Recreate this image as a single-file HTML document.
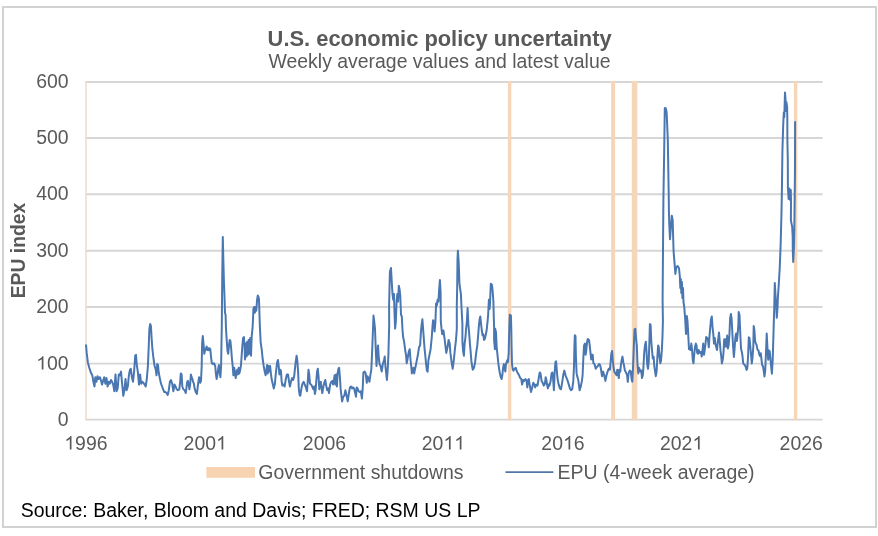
<!DOCTYPE html>
<html><head><meta charset="utf-8">
<style>
html,body{margin:0;padding:0;background:#fff;}
body{width:878px;height:536px;overflow:hidden;font-family:"Liberation Sans",sans-serif;}
svg{display:block;will-change:transform;}
text{font-family:"Liberation Sans",sans-serif;}
.ax{font-size:18.67px;fill:#595959;}
</style></head><body>
<svg width="878" height="536" viewBox="0 0 878 536">
<rect x="0" y="0" width="878" height="536" fill="#ffffff"/>
<rect x="3" y="7" width="873" height="520" fill="none" stroke="#d2d2d2" stroke-width="2"/>
<!-- gridlines -->
<g stroke="#d6d6d6" stroke-width="1.9">
<line x1="85.2" x2="822.6" y1="82.0" y2="82.0"/>
<line x1="85.2" x2="822.6" y1="138.0" y2="138.0"/>
<line x1="85.2" x2="822.6" y1="194.3" y2="194.3"/>
<line x1="85.2" x2="822.6" y1="250.8" y2="250.8"/>
<line x1="85.2" x2="822.6" y1="307.0" y2="307.0"/>
<line x1="85.2" x2="822.6" y1="363.6" y2="363.6"/>
<line x1="85.2" x2="822.6" y1="419.6" y2="419.6"/>
</g>
<!-- shutdown bars -->
<g fill="#f6d5b8">
<rect id="b0" x="85.2" y="81" width="1.6" height="339" fill="#f1dccb"/>
<rect id="b1" x="507.9" y="81" width="3.4" height="339.2"/>
<rect id="b2" x="611.1" y="81" width="4" height="339.2"/>
<rect id="b3" x="631.8" y="81" width="5.5" height="339.2"/>
<rect id="b4" x="793.9" y="81" width="3.4" height="339.2"/>
</g>
<!-- LINE -->
<path id="epu" d="M86.0,344.5 L86.7,352.9 L87.8,362.2 L89.3,367.8 L90.8,372.5 L92.3,375.3 L93.4,381.8 L94.5,386.5 L95.3,377.2 L96.4,381.8 L97.5,376.2 L98.7,379.0 L99.8,377.2 L100.9,380.0 L102.0,384.6 L103.1,380.9 L104.2,377.2 L105.4,383.7 L106.5,378.1 L107.6,386.5 L108.7,381.8 L109.8,383.7 L111.0,380.0 L112.1,381.8 L113.2,384.6 L114.3,391.2 L115.5,374.4 L116.6,391.2 L117.7,388.4 L118.8,374.4 L119.9,375.3 L121.0,371.6 L122.2,384.6 L123.3,395.8 L124.4,390.2 L125.5,379.0 L126.6,390.2 L127.8,386.5 L128.9,375.3 L130.0,369.7 L130.8,368.8 L131.9,377.2 L133.0,381.8 L134.1,371.6 L135.2,355.7 L136.0,354.8 L136.7,364.1 L137.8,371.6 L139.0,384.6 L140.1,374.4 L141.2,383.7 L142.3,381.8 L143.4,382.8 L144.6,384.6 L145.7,386.5 L146.8,379.0 L147.9,366.0 L148.7,347.3 L149.4,328.7 L150.2,324.0 L150.9,325.9 L151.6,338.0 L152.4,349.2 L153.5,358.5 L154.6,366.0 L155.8,369.7 L156.5,375.3 L157.2,364.1 L158.0,365.0 L158.7,372.5 L159.8,378.1 L161.0,383.7 L162.1,386.5 L163.2,389.3 L164.3,392.1 L165.4,392.1 L166.6,393.0 L167.7,394.9 L168.8,390.2 L169.9,381.8 L171.0,380.0 L172.2,383.7 L173.3,391.2 L174.4,385.6 L174.5,384.6 L175.6,386.5 L176.7,389.3 L177.8,390.2 L179.3,389.3 L180.1,382.8 L180.8,373.4 L181.6,374.4 L182.3,386.5 L183.4,389.3 L184.6,390.2 L185.7,393.0 L186.4,388.4 L187.2,381.8 L187.9,380.9 L188.7,384.6 L189.4,389.3 L190.2,383.7 L190.9,374.4 L191.6,377.2 L192.4,379.0 L193.1,381.8 L193.9,383.7 L194.6,388.4 L195.8,392.1 L196.9,394.0 L198.0,384.6 L199.1,377.2 L200.2,382.8 L201.0,380.9 L201.7,366.0 L202.1,343.6 L202.8,336.1 L203.6,344.5 L204.3,353.8 L205.1,350.1 L205.8,349.2 L206.6,346.4 L207.3,350.1 L208.1,348.2 L208.8,350.1 L209.6,348.2 L210.3,349.2 L211.0,356.6 L211.8,363.2 L212.9,364.1 L214.0,363.2 L215.2,366.0 L215.9,373.4 L216.6,379.0 L217.4,375.3 L218.1,369.7 L218.9,365.0 L219.6,371.6 L220.4,377.2 L221.1,366.0 L221.8,325.0 L222.2,280.0 L222.8,237.1 L223.4,262.0 L223.9,281.0 L224.6,299.6 L225.0,312.7 L225.6,315.0 L226.0,328.7 L226.7,339.9 L227.5,351.0 L228.2,353.8 L229.0,345.4 L229.7,339.9 L230.4,340.8 L231.2,349.2 L231.9,358.5 L232.7,366.0 L233.4,375.3 L234.2,367.8 L234.9,371.6 L235.7,378.1 L236.4,373.4 L237.2,369.7 L237.9,374.4 L238.7,367.8 L239.4,373.4 L240.2,369.7 L240.9,366.0 L241.6,356.6 L242.4,345.4 L243.1,338.0 L243.9,337.1 L244.6,347.3 L245.0,359.4 L245.8,343.6 L246.5,356.6 L247.2,341.7 L248.0,354.8 L248.7,339.9 L249.5,353.8 L250.2,338.0 L251.0,355.7 L251.7,336.1 L252.5,328.7 L252.9,322.0 L253.4,309.0 L254.1,307.0 L254.9,312.7 L255.6,307.0 L256.3,310.8 L257.1,299.6 L257.8,295.5 L258.5,297.0 L259.0,299.6 L259.3,309.0 L259.8,324.9 L260.7,342.6 L261.8,350.1 L262.6,358.5 L263.7,366.0 L264.9,372.5 L265.6,375.3 L266.3,371.6 L267.1,365.0 L267.8,373.4 L268.6,366.0 L269.3,371.6 L270.1,366.0 L270.8,372.5 L271.6,379.0 L272.7,383.7 L273.8,388.4 L274.9,383.7 L276.0,371.6 L277.2,362.2 L277.9,360.0 L278.7,366.0 L279.4,374.4 L280.1,369.7 L280.9,370.6 L281.6,380.9 L282.4,385.6 L283.5,384.6 L284.6,386.5 L285.8,379.0 L286.9,374.4 L288.0,374.4 L289.1,381.8 L289.9,386.5 L291.0,381.8 L292.1,378.1 L293.2,380.0 L294.3,375.3 L295.4,364.1 L296.6,355.7 L297.3,360.4 L298.1,371.6 L298.8,388.4 L299.6,394.9 L300.3,395.8 L301.4,388.4 L302.5,383.7 L303.7,381.8 L304.8,384.6 L305.9,387.4 L307.0,391.2 L307.8,380.9 L308.5,369.7 L309.2,374.4 L310.0,383.7 L311.1,384.6 L312.2,386.5 L313.4,389.3 L314.1,386.5 L314.9,394.0 L315.6,390.2 L316.3,380.9 L317.1,371.6 L317.8,368.8 L318.6,377.2 L319.3,389.3 L320.1,382.8 L320.8,381.8 L321.6,388.4 L322.3,393.0 L323.4,386.5 L324.6,381.8 L325.3,380.0 L326.0,384.6 L327.2,390.2 L328.3,388.4 L329.0,393.0 L330.1,384.6 L331.3,381.8 L332.4,380.9 L333.1,384.6 L333.9,380.0 L334.6,375.3 L335.4,384.6 L336.1,374.4 L336.9,386.5 L337.6,373.4 L338.4,368.8 L339.1,367.8 L339.9,377.2 L340.6,388.4 L341.3,394.9 L342.1,401.4 L343.2,396.8 L344.3,395.8 L345.4,390.2 L346.6,395.8 L347.7,401.4 L348.8,394.0 L349.9,387.4 L351.0,386.5 L352.2,388.4 L353.0,387.4 L354.1,388.4 L355.2,393.0 L356.0,396.8 L356.7,387.4 L357.5,388.4 L358.6,391.2 L359.7,392.1 L360.8,391.2 L361.9,398.6 L362.7,388.4 L363.4,372.5 L364.6,371.6 L365.7,373.4 L366.8,382.8 L367.5,376.2 L368.3,378.1 L369.4,381.8 L370.5,374.4 L371.3,369.7 L372.0,354.8 L372.8,334.2 L373.5,315.6 L374.2,321.2 L375.0,328.7 L375.8,351.0 L376.5,366.0 L377.2,354.8 L378.0,345.4 L378.7,356.6 L379.5,364.1 L380.6,366.0 L381.7,371.6 L382.8,364.1 L384.0,360.4 L384.7,356.6 L385.4,366.0 L386.2,373.4 L386.9,380.0 L387.7,369.7 L388.4,354.8 L389.2,324.9 L389.1,305.3 L389.9,271.7 L391.0,268.0 L391.7,281.0 L392.5,294.1 L393.2,299.7 L394.0,294.1 L394.3,307.2 L395.1,328.6 L395.8,322.1 L396.6,301.6 L397.3,294.1 L398.1,301.6 L398.8,285.7 L399.6,289.4 L400.3,296.0 L401.0,314.6 L401.8,316.5 L402.5,329.6 L403.0,336.1 L404.1,341.7 L405.2,350.1 L406.0,354.8 L406.7,363.2 L407.5,359.4 L408.2,354.8 L409.0,351.0 L409.7,349.2 L410.4,358.5 L411.2,366.0 L411.9,373.4 L412.7,369.7 L413.4,367.8 L414.2,373.4 L414.9,369.7 L415.7,366.0 L416.8,360.4 L417.9,354.8 L419.0,347.3 L420.1,345.4 L420.9,332.4 L421.6,324.9 L422.4,319.3 L423.1,328.7 L423.9,339.9 L424.6,349.2 L425.4,356.6 L426.1,364.1 L426.9,370.6 L427.6,371.6 L428.4,360.4 L429.5,354.8 L430.6,349.2 L431.7,338.0 L432.4,327.7 L433.1,320.2 L433.9,322.1 L434.6,331.4 L435.4,322.1 L436.1,303.4 L436.9,305.3 L437.6,299.7 L438.4,301.6 L439.1,290.4 L439.9,280.1 L440.6,292.2 L440.8,321.2 L441.5,328.7 L442.2,334.2 L443.4,330.5 L444.5,338.0 L445.6,347.3 L446.3,352.9 L447.5,347.3 L448.6,339.9 L449.7,343.6 L450.4,352.9 L451.6,362.2 L452.7,368.8 L453.8,360.4 L454.9,349.2 L456.0,339.9 L456.8,328.7 L456.8,305.3 L457.2,286.6 L457.5,258.7 L457.9,250.8 L458.7,262.4 L459.4,282.9 L460.1,288.5 L460.9,294.1 L461.6,309.0 L462.4,324.0 L462.4,341.7 L463.1,351.0 L463.9,355.7 L464.6,343.6 L465.4,338.0 L466.1,328.7 L466.9,321.2 L467.6,308.0 L468.4,324.9 L469.1,332.4 L469.9,343.6 L470.6,351.0 L471.3,360.4 L472.1,366.0 L472.8,369.7 L474.0,367.8 L475.1,362.2 L476.2,352.9 L477.3,345.4 L478.1,336.1 L478.8,326.8 L479.6,319.3 L480.3,316.5 L481.0,323.1 L481.8,330.5 L482.5,335.2 L483.3,334.2 L484.0,339.9 L484.8,338.9 L485.9,334.2 L486.6,330.5 L487.4,323.1 L488.1,315.6 L488.9,299.7 L489.6,309.0 L490.0,303.4 L490.8,283.8 L491.9,284.8 L492.6,290.4 L493.4,301.6 L493.7,314.6 L494.1,327.7 L494.1,339.9 L494.9,349.2 L495.2,328.7 L496.0,332.4 L496.7,347.3 L497.5,354.8 L498.2,362.2 L499.0,367.8 L499.7,372.5 L500.8,377.2 L501.6,379.0 L502.3,375.3 L503.1,367.8 L503.8,364.1 L504.6,367.8 L505.3,371.6 L506.0,364.1 L507.2,360.4 L507.9,362.2 L508.7,352.9 L509.0,338.0 L509.4,324.9 L509.8,314.7 L510.9,315.6 L511.3,328.7 L511.6,347.3 L512.0,364.1 L512.8,369.7 L513.5,370.6 L514.6,368.8 L515.8,367.8 L516.9,371.6 L518.0,373.4 L519.1,375.3 L520.2,378.1 L521.3,379.0 L522.1,384.6 L523.2,380.0 L524.3,380.9 L525.5,379.0 L526.6,380.9 L527.3,387.4 L528.1,380.0 L528.8,379.0 L529.5,383.7 L530.3,388.4 L531.0,392.1 L532.2,387.4 L533.3,382.8 L534.4,384.6 L535.2,387.4 L536.3,384.6 L537.5,385.6 L538.6,379.0 L539.7,372.5 L540.5,373.4 L541.6,380.9 L542.7,382.8 L543.8,385.6 L544.9,383.7 L545.7,377.2 L546.4,380.0 L547.2,385.6 L547.9,388.4 L548.7,384.6 L549.4,385.6 L550.5,381.8 L551.6,373.4 L552.4,372.5 L553.1,379.0 L553.9,390.2 L554.6,373.4 L555.4,362.2 L556.1,361.3 L556.9,371.6 L557.6,379.0 L558.7,384.6 L559.9,388.4 L561.0,389.3 L562.1,382.8 L563.2,375.3 L564.3,370.6 L565.5,375.3 L566.6,378.1 L567.7,380.9 L568.8,384.6 L569.9,388.4 L571.0,390.2 L572.2,389.3 L573.3,380.9 L574.0,366.0 L574.4,347.3 L574.8,335.2 L575.5,336.1 L575.9,356.6 L576.6,373.4 L577.4,377.2 L578.1,379.0 L578.9,384.6 L579.6,390.2 L580.8,386.5 L581.9,380.9 L582.6,375.3 L583.4,356.6 L584.1,345.4 L584.9,343.6 L585.6,354.8 L586.3,350.1 L587.1,341.7 L587.8,338.9 L589.0,339.9 L589.7,345.4 L590.5,352.9 L591.2,359.4 L591.9,354.8 L592.7,354.8 L593.4,363.2 L594.5,364.1 L595.7,368.8 L596.8,366.9 L597.9,366.0 L599.0,364.1 L600.1,365.0 L600.9,368.8 L602.0,376.2 L603.1,371.6 L604.2,375.3 L605.4,380.9 L606.5,375.3 L607.6,371.6 L608.7,368.8 L609.9,369.7 L610.6,362.2 L611.3,353.8 L612.1,351.0 L612.8,360.4 L613.6,367.8 L614.3,371.6 L615.5,373.4 L616.6,375.3 L617.3,369.7 L618.1,370.6 L618.8,378.1 L619.5,369.7 L620.3,371.6 L621.0,364.1 L621.8,359.4 L622.5,356.6 L623.3,362.2 L624.1,366.0 L624.9,370.6 L626.0,372.5 L627.1,375.3 L627.8,381.8 L628.6,373.4 L629.7,370.6 L630.8,371.6 L631.6,379.0 L632.3,381.8 L633.1,366.0 L633.8,347.3 L634.5,329.6 L635.3,328.7 L636.0,338.0 L636.8,345.4 L637.5,364.1 L638.3,373.4 L639.0,367.8 L639.8,369.7 L640.5,371.6 L641.3,370.6 L642.0,378.1 L642.8,375.3 L643.5,366.0 L644.2,352.9 L645.0,345.4 L645.8,341.7 L646.5,351.0 L647.2,364.1 L648.0,368.8 L648.7,362.2 L649.5,338.0 L649.9,324.0 L650.6,324.9 L651.3,341.7 L652.1,351.0 L652.8,358.5 L653.6,356.6 L654.3,366.0 L655.1,371.6 L655.8,376.2 L656.6,371.6 L657.3,358.5 L658.1,345.4 L658.8,347.3 L659.5,356.6 L660.3,363.2 L661.0,360.4 L661.8,351.0 L662.5,336.1 L662.9,321.2 L662.6,300.0 L663.0,250.0 L663.4,200.0 L664.2,150.0 L664.8,108.0 L665.8,108.5 L666.6,112.0 L667.2,125.0 L667.8,140.0 L668.3,170.0 L668.7,193.5 L668.9,210.0 L669.2,222.4 L670.0,239.2 L670.9,226.9 L671.8,215.7 L672.7,220.1 L673.1,235.8 L673.6,251.5 L674.5,262.7 L675.4,273.9 L676.3,267.2 L677.6,266.0 L679.0,268.3 L679.8,276.0 L680.3,288.0 L680.8,279.0 L681.3,293.0 L681.9,282.0 L682.4,298.0 L683.0,288.0 L683.5,302.0 L684.3,307.5 L685.3,321.0 L686.0,334.0 L686.8,316.0 L687.5,321.0 L688.3,336.1 L689.0,349.2 L689.8,347.3 L690.5,350.1 L691.3,343.6 L692.0,349.2 L692.8,360.4 L693.5,363.2 L694.2,354.8 L695.0,347.3 L695.8,343.6 L696.5,345.4 L697.2,352.9 L698.0,353.8 L698.7,350.1 L699.9,352.9 L701.0,352.0 L701.7,356.6 L702.5,351.0 L703.2,343.6 L704.0,354.8 L704.7,350.1 L705.5,343.6 L706.2,337.1 L707.3,338.0 L708.1,340.8 L708.8,347.3 L709.5,336.1 L710.3,326.8 L711.0,319.3 L711.8,316.5 L712.5,326.8 L713.3,334.2 L714.0,343.6 L714.8,338.0 L715.5,344.5 L716.3,347.3 L717.0,350.1 L717.5,344.8 L718.2,339.2 L719.0,332.6 L719.7,341.0 L720.5,350.4 L721.2,356.0 L721.9,363.4 L722.7,359.7 L723.4,354.1 L724.2,339.2 L724.9,346.6 L725.7,339.2 L726.4,346.6 L727.2,335.4 L727.9,348.5 L728.7,344.8 L729.4,335.4 L730.1,318.7 L730.9,314.0 L731.6,318.7 L732.4,333.6 L733.1,346.6 L733.9,356.9 L734.6,348.5 L735.4,337.3 L736.1,333.6 L736.9,341.0 L737.6,334.5 L738.4,324.2 L738.7,312.1 L739.5,314.9 L740.2,331.7 L741.0,348.5 L741.7,351.3 L742.5,356.0 L743.2,363.4 L744.3,364.4 L745.5,366.2 L746.6,370.0 L747.3,368.1 L748.1,356.0 L748.8,337.3 L749.5,338.2 L750.3,346.6 L751.0,354.1 L751.8,363.4 L752.5,357.8 L753.3,346.6 L753.7,326.1 L754.4,329.9 L755.1,341.0 L755.9,343.8 L756.6,344.8 L757.4,349.4 L758.5,350.4 L759.2,354.1 L760.0,356.0 L760.8,353.2 L761.5,359.7 L762.2,365.3 L763.0,366.2 L763.7,370.9 L764.5,376.5 L765.2,370.9 L766.0,352.2 L766.7,333.6 L767.5,348.5 L768.2,359.7 L769.0,350.4 L769.7,351.3 L770.5,359.7 L771.2,367.2 L771.9,373.7 L772.7,359.7 L773.1,346.6 L773.8,322.4 L774.2,309.3 L774.8,283.0 L775.5,295.0 L776.1,305.0 L776.8,317.7 L777.5,308.0 L777.9,297.5 L778.8,284.0 L779.7,268.4 L780.6,246.0 L781.5,212.4 L781.9,190.0 L782.4,152.0 L783.2,125.0 L783.8,112.5 L784.3,117.0 L784.7,103.0 L785.0,92.6 L785.5,99.0 L785.9,111.0 L786.3,102.0 L786.8,105.0 L787.1,107.0 L787.3,116.3 L787.4,141.0 L787.8,160.0 L787.9,188.0 L788.6,199.0 L789.4,188.5 L790.2,200.0 L790.8,190.0 L791.0,201.0 L790.9,220.4 L792.2,227.0 L792.7,237.0 L792.8,250.4 L793.2,262.0 L793.8,250.0 L794.3,231.0 L795.0,170.0 L795.1,121.2" fill="none" stroke="#4a77b1" stroke-width="2" stroke-linejoin="round"/>
<!-- titles -->
<text x="267.6" y="45.7" font-size="22.5px" font-weight="bold" fill="#595959" textLength="344" lengthAdjust="spacingAndGlyphs">U.S. economic policy uncertainty</text>
<text x="268.5" y="67.8" font-size="19.3px" fill="#595959" textLength="342" lengthAdjust="spacingAndGlyphs">Weekly average values and latest value</text>
<!-- y labels -->
<!-- x labels -->
<g id="axlabels">
<g transform="translate(36.19,88.00)"><text class="ax" transform="scale(1.042,1.035)" x="0.000 10.383 20.767" y="0">600</text></g>
<g transform="translate(36.19,144.00)"><text class="ax" transform="scale(1.042,1.035)" x="0.000 10.383 20.767" y="0">500</text></g>
<g transform="translate(36.19,200.30)"><text class="ax" transform="scale(1.042,1.035)" x="0.000 10.383 20.767" y="0">400</text></g>
<g transform="translate(36.19,256.80)"><text class="ax" transform="scale(1.042,1.035)" x="0.000 10.383 20.767" y="0">300</text></g>
<g transform="translate(36.19,313.00)"><text class="ax" transform="scale(1.042,1.035)" x="0.000 10.383 20.767" y="0">200</text></g>
<g transform="translate(36.19,369.60)"><path d="M763 0H583V1147Q518 1085 412.5 1023T223 930V1104Q374 1175 487 1276T647 1472H763Z" transform="translate(0.000,0) scale(0.009499,-0.009116)" fill="#595959"/><text class="ax" transform="scale(1.042,1.035)" x="10.383 20.767" y="0">00</text></g>
<g transform="translate(57.83,425.60)"><text class="ax" transform="scale(1.042,1.035)" x="0.000" y="0">0</text></g>
<g transform="translate(64.26,449.50)"><path d="M763 0H583V1147Q518 1085 412.5 1023T223 930V1104Q374 1175 487 1276T647 1472H763Z" transform="translate(0.000,0) scale(0.009499,-0.009116)" fill="#595959"/><text class="ax" transform="scale(1.042,1.035)" x="10.383 20.767 31.150" y="0">996</text></g>
<g transform="translate(183.56,449.50)"><path d="M763 0H583V1147Q518 1085 412.5 1023T223 930V1104Q374 1175 487 1276T647 1472H763Z" transform="translate(32.458,0) scale(0.009499,-0.009116)" fill="#595959"/><text class="ax" transform="scale(1.042,1.035)" x="0.000 10.383 20.767" y="0">200</text></g>
<g transform="translate(302.86,449.50)"><text class="ax" transform="scale(1.042,1.035)" x="0.000 10.383 20.767 31.150" y="0">2006</text></g>
<g transform="translate(421.76,449.50)"><path d="M763 0H583V1147Q518 1085 412.5 1023T223 930V1104Q374 1175 487 1276T647 1472H763Z" transform="translate(21.639,0) scale(0.009499,-0.009116)" fill="#595959"/><path d="M763 0H583V1147Q518 1085 412.5 1023T223 930V1104Q374 1175 487 1276T647 1472H763Z" transform="translate(32.458,0) scale(0.009499,-0.009116)" fill="#595959"/><text class="ax" transform="scale(1.042,1.035)" x="0.000 10.383" y="0">20</text></g>
<g transform="translate(541.36,449.50)"><path d="M763 0H583V1147Q518 1085 412.5 1023T223 930V1104Q374 1175 487 1276T647 1472H763Z" transform="translate(21.639,0) scale(0.009499,-0.009116)" fill="#595959"/><text class="ax" transform="scale(1.042,1.035)" x="0.000 10.383 31.150" y="0">206</text></g>
<g transform="translate(659.96,449.50)"><path d="M763 0H583V1147Q518 1085 412.5 1023T223 930V1104Q374 1175 487 1276T647 1472H763Z" transform="translate(32.458,0) scale(0.009499,-0.009116)" fill="#595959"/><text class="ax" transform="scale(1.042,1.035)" x="0.000 10.383 20.767" y="0">202</text></g>
<g transform="translate(779.56,449.50)"><text class="ax" transform="scale(1.042,1.035)" x="0.000 10.383 20.767 31.150" y="0">2026</text></g>
</g>
<!-- y title -->
<text transform="translate(24.9,298.3) rotate(-90)" font-size="20.2px" font-weight="bold" fill="#595959" textLength="95.6" lengthAdjust="spacingAndGlyphs">EPU index</text>
<!-- legend -->
<rect x="206.4" y="467" width="48.6" height="10.8" fill="#f7d3b2"/>
<text class="ax" style="font-size:19.4px" x="258.3" y="478.8" textLength="205.3" lengthAdjust="spacingAndGlyphs">Government shutdowns</text>
<line x1="505.4" x2="553.4" y1="472.1" y2="472.1" stroke="#5076a8" stroke-width="1.9"/>
<text class="ax" style="font-size:19.4px" x="557.4" y="478.8" textLength="197.2" lengthAdjust="spacingAndGlyphs">EPU (4-week average)</text>
<!-- source -->
<text x="20.7" y="516.6" font-size="19.4px" fill="#000" textLength="459.8" lengthAdjust="spacingAndGlyphs">Source: Baker, Bloom and Davis; FRED; RSM US LP</text>
</svg>
</body></html>
